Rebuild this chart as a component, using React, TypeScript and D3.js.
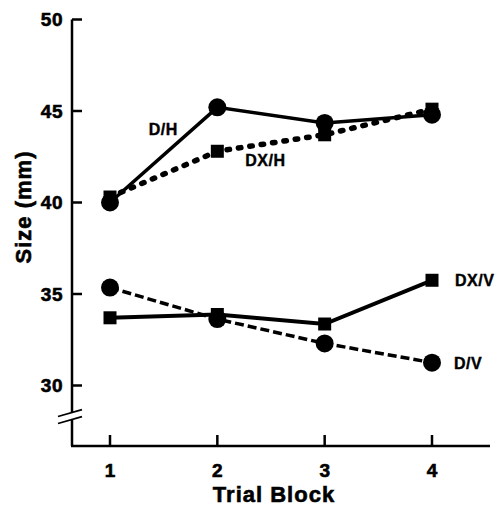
import * as d3 from "d3";

// trial blocks on the x axis
const blocks = [1, 2, 3, 4];
const yTicks = [30, 35, 40, 45, 50];

// mean size (mm) per block
const dH = [40.0, 45.2, 44.35, 44.8];
const dxH = [40.3, 42.8, 43.7, 45.1];
const dV = [35.35, 33.63, 32.3, 31.25];
const dxV = [33.7, 33.88, 33.36, 35.75];

const W = 498;
const H = 508;
const font = "'Liberation Sans', Arial, Helvetica, sans-serif";

export default function App() {
  const x = d3.scaleLinear().domain([1, 4]).range([110, 432]);
  const y = d3.scaleLinear().domain([30, 50]).range([385.5, 19.5]);

  const axisX = 72;
  const axisY = 446;

  const line = d3
    .line<number>()
    .x((_, i) => x(blocks[i]))
    .y((d) => y(d));

  const series = [
    { name: "DX/H", values: dxH, marker: "square", dash: "2.5 9", width: 5.5, cap: "round" },
    { name: "DX/V", values: dxV, marker: "square", dash: "", width: 4, cap: "butt" },
    { name: "D/V", values: dV, marker: "circle", dash: "9 4", width: 3.5, cap: "butt" },
    { name: "D/H", values: dH, marker: "circle", dash: "", width: 3.5, cap: "butt" },
  ];

  // axis break on the y axis
  const brkTop = 412.5;
  const brkBot = 419.5;
  const slope = -0.286;
  const slash = (cy: number) =>
    `M${axisX - 14},${cy - 14 * slope} L${axisX + 10},${cy + 10 * slope}`;

  return (
    <svg
      width={W}
      height={H}
      style={{ position: "absolute", left: 0, top: 0, background: "#fff" }}
      fontFamily={font}
      fontWeight="bold"
    >
      {/* y axis with break */}
      <path
        d={`M${axisX},${y(50)} V${brkTop} M${axisX},${brkBot} V${axisY}`}
        stroke="#000"
        strokeWidth={2.5}
        fill="none"
      />
      <path d={slash(brkTop)} stroke="#000" strokeWidth={1.8} />
      <path d={slash(brkBot)} stroke="#000" strokeWidth={1.8} />
      {/* x axis */}
      <path d={`M${axisX - 1},${axisY} H490`} stroke="#000" strokeWidth={2.5} />

      <g stroke="#000" strokeWidth={0.6}>
        {yTicks.map((t) => (
          <g key={t}>
            <line x1={axisX} x2={axisX + 10} y1={y(t)} y2={y(t)} strokeWidth={2.5} />
            <text x={63} y={y(t) + 6.5} textAnchor="end" fontSize={19} letterSpacing={0.5}>
              {t}
            </text>
          </g>
        ))}
        {blocks.map((b) => (
          <g key={b}>
            <line x1={x(b)} x2={x(b)} y1={axisY} y2={axisY - 11} strokeWidth={2.5} />
            <text x={x(b)} y={476.5} textAnchor="middle" fontSize={19}>
              {b}
            </text>
          </g>
        ))}

        <text x={274} y={502} textAnchor="middle" fontSize={22} letterSpacing={1}>
          Trial Block
        </text>
        <text
          transform={`translate(31,207) rotate(-90)`}
          textAnchor="middle"
          fontSize={22}
          letterSpacing={1}
        >
          Size (mm)
        </text>

        <g fontSize={16} letterSpacing={0.5} strokeWidth={0.4}>
          <text x={x(1.36)} y={y(44.0) + 6}>D/H</text>
          <text x={x(2.26)} y={y(42.3) + 6}>DX/H</text>
          <text x={x(4) + 23} y={y(dxV[3]) + 6}>DX/V</text>
          <text x={x(4) + 22} y={y(dV[3]) + 6}>D/V</text>
        </g>
      </g>

      {series.map((s) => (
        <path
          key={s.name + "-line"}
          d={line(s.values) ?? ""}
          fill="none"
          stroke="#000"
          strokeWidth={s.width}
          strokeDasharray={s.dash || undefined}
          strokeLinecap={s.cap as any}
        />
      ))}
      {series.map((s) =>
        s.values.map((v, i) =>
          s.marker === "square" ? (
            <rect
              key={s.name + i}
              x={x(blocks[i]) - 6.5}
              y={y(v) - 6.5}
              width={13}
              height={13}
              fill="#000"
            />
          ) : (
            <circle key={s.name + i} cx={x(blocks[i])} cy={y(v)} r={9} fill="#000" />
          )
        )
      )}
    </svg>
  );
}
